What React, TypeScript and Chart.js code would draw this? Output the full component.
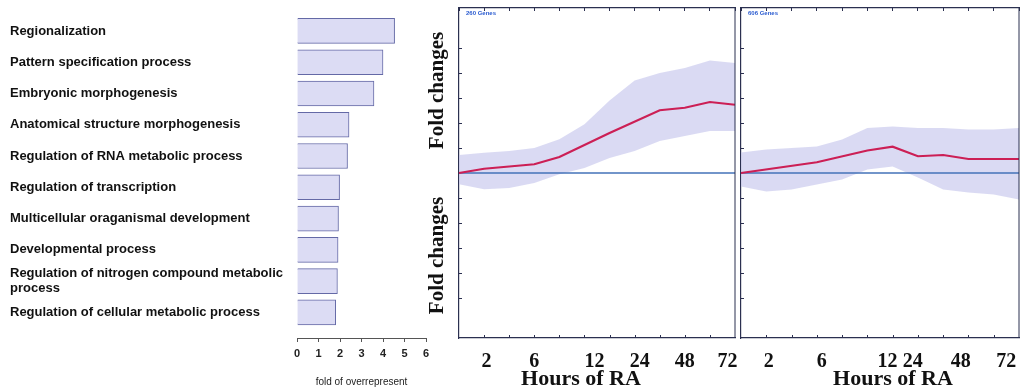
import React, { useEffect, useRef } from 'react';
import { Chart, registerables } from 'chart.js';

Chart.register(...registerables);

// ---------- Data ----------
const goTerms: (string | string[])[] = [
  'Regionalization',
  'Pattern specification process',
  'Embryonic morphogenesis',
  'Anatomical structure morphogenesis',
  'Regulation of RNA metabolic process',
  'Regulation of transcription',
  'Multicellular oraganismal development',
  'Developmental process',
  ['Regulation of nitrogen compound metabolic', 'process'],
  'Regulation of cellular metabolic process',
];
const foldOverrep = [4.54, 4.0, 3.58, 2.42, 2.35, 1.98, 1.93, 1.91, 1.88, 1.8];

const hourLabels = ['2', '6', '12', '24', '48', '72'];
const hourPos1 = [1.1, 3.0, 5.4, 7.2, 9.0, 10.7];
const hourPos2 = [1.1, 3.2, 5.8, 6.8, 8.7, 10.5];

const cloudX = [0, 1, 2, 3, 4, 5, 6, 7, 8, 9, 10, 11];
const cloud1Upper = [0.72, 0.81, 0.88, 1.0, 1.35, 1.95, 2.9, 3.7, 4.0, 4.2, 4.5, 4.4];
const cloud1Lower = [-0.45, -0.65, -0.6, -0.4, -0.05, 0.2, 0.6, 0.88, 1.28, 1.48, 1.68, 1.68];
const cloud2Upper = [0.82, 0.94, 1.0, 1.06, 1.34, 1.8, 1.86, 1.8, 1.8, 1.74, 1.74, 1.8];
const cloud2Lower = [-0.54, -0.74, -0.66, -0.46, -0.26, 0.14, 0.26, -0.18, -0.66, -0.78, -0.86, -1.06];

const mean1X = [0, 1, 3, 4, 6, 8, 9, 10, 11];
const mean1Y = [0, 0.17, 0.35, 0.64, 1.6, 2.51, 2.61, 2.84, 2.73];
const mean2X = [0, 3, 5, 6, 7, 8, 9, 11];
const mean2Y = [0, 0.43, 0.9, 1.05, 0.67, 0.72, 0.56, 0.56];

const zeroX = [0, 11];
const zeroY = [0, 0];

const geneCount1 = '260 Genes';
const geneCount2 = '606 Genes';

// ---------- Styles ----------
const FRAME = '#2b3050';
const CLOUD = 'rgba(200,200,238,0.68)';
const MEAN = '#cc1f55';
const ZERO = '#4372b8';
const SERIF = '"Liberation Serif", "Times New Roman", serif';
const SANS = '"Liberation Sans", Arial, sans-serif';

const panelFrame = {
  id: 'panelFrame',
  afterDatasetsDraw(chart: any, _args: any, opts: any) {
    const { ctx, chartArea: a } = chart;
    ctx.save();
    ctx.strokeStyle = FRAME;
    ctx.lineWidth = 1.2;
    ctx.beginPath();
    ctx.moveTo(a.right, a.top);
    ctx.lineTo(a.right, a.bottom);
    // inward tick marks on the bottom border, following the top axis ticks
    const xt = chart.scales.xTop;
    if (xt) {
      ctx.lineWidth = 1;
      xt.ticks.forEach((t: any) => {
        const px = Math.round(xt.getPixelForValue(t.value)) + 0.5;
        if (px <= a.left + 1 || px >= a.right - 1) return;
        ctx.moveTo(px, a.bottom);
        ctx.lineTo(px, a.bottom - 3);
      });
    }
    ctx.stroke();
    if (opts && opts.text) {
      ctx.fillStyle = '#2a5bd0';
      ctx.font = `bold 6px ${SANS}`;
      ctx.textBaseline = 'middle';
      ctx.fillText(opts.text, a.left + 7, a.top + 5);
    }
    ctx.restore();
  },
};

const pts = (xs: number[], ys: number[]) => xs.map((x, i) => ({ x, y: ys[i] }));

const noPad = (s: any) => {
  s.paddingLeft = 0;
  s.paddingRight = 0;
  s.paddingTop = 0;
  s.paddingBottom = 0;
};

// shift an axis title by (dx, dy) pixels
const shiftTitle = (dx: number, dy: number) => (s: any) => {
  if (s._titleShifted) return;
  s._titleShifted = true;
  const orig = s.drawTitle.bind(s);
  s.drawTitle = () => {
    s.ctx.save();
    s.ctx.translate(dx, dy);
    orig();
    s.ctx.restore();
  };
};

function panelConfig(
  upper: number[],
  lower: number[],
  mx: number[],
  my: number[],
  hourPos: number[],
  showYTitle: boolean,
  yWidth: number,
  padRight: number,
  geneText: string,
  titleDx: number
): any {
  const yCommon = (min: number, max: number) => ({
    type: 'linear',
    position: 'left',
    stack: 'fold',
    stackWeight: 1,
    min,
    max,
    afterBuildTicks: (s: any) => {
      s.ticks = s.ticks.filter((t: any) => Number.isInteger(t.value) && t.value !== 0);
    },
    ticks: { display: false, stepSize: 1 },
    grid: { drawOnChartArea: false, drawTicks: true, tickLength: -3, color: FRAME },
    border: { color: FRAME, width: 1.2 },
    title: {
      display: showYTitle,
      text: 'Fold changes',
      font: { family: SERIF, weight: 'bold', size: 21 },
      color: '#111',
      padding: { top: 5, bottom: 0 },
    },
    afterFit: (s: any) => {
      s.width = yWidth;
      noPad(s);
    },
  });
  return {
    type: 'line',
    data: {
      datasets: [
        {
          data: pts(mx, my),
          yAxisID: 'yTop',
          borderWidth: 2.2,
          pointRadius: 0,
          borderColor: MEAN,
          fill: false,
          clip: false,
        },
        {
          data: pts(zeroX, zeroY),
          yAxisID: 'yTop',
          borderWidth: 1.4,
          pointRadius: 0,
          borderColor: ZERO,
          fill: false,
          clip: false,
        },
        {
          data: pts(cloudX, upper),
          yAxisID: 'yTop',
          borderWidth: 0,
          pointRadius: 0,
          fill: false,
          backgroundColor: CLOUD,
          borderColor: 'rgba(0,0,0,0)',
          clip: false,
        },
        {
          data: pts(cloudX, lower),
          yAxisID: 'yTop',
          borderWidth: 0,
          pointRadius: 0,
          fill: '-1',
          backgroundColor: CLOUD,
          borderColor: 'rgba(0,0,0,0)',
          clip: false,
        },
      ],
    },
    options: {
      responsive: false,
      animation: false,
      layout: { autoPadding: false, padding: { left: 0, top: 5, right: padRight, bottom: 0 } },
      plugins: {
        legend: { display: false },
        tooltip: { enabled: false },
        panelFrame: { text: geneText },
      },
      scales: {
        x: {
          type: 'linear',
          position: 'bottom',
          min: 0,
          max: 11,
          afterBuildTicks: (s: any) => {
            s.ticks = hourPos.map((v) => ({ value: v }));
          },
          ticks: {
            callback: (_v: any, i: number) => hourLabels[i],
            autoSkip: false,
            maxRotation: 0,
            font: { family: SERIF, weight: 'bold', size: 20 },
            color: '#111',
            padding: 12,
          },
          grid: { display: false, drawTicks: false },
          border: { color: FRAME, width: 1.2 },
          title: {
            display: true,
            text: 'Hours of RA',
            font: { family: SERIF, weight: 'bold', size: 22 },
            color: '#111',
            padding: { top: 0, bottom: 0 },
          },
          afterFit: (s: any) => {
            s.height = 52;
            noPad(s);
          },
          afterUpdate: shiftTitle(titleDx, 3),
        },
        xTop: {
          type: 'linear',
          position: 'top',
          min: 0,
          max: 11,
          ticks: { display: false, stepSize: 1 },
          grid: { drawOnChartArea: false, drawTicks: true, tickLength: -3, color: FRAME },
          border: { color: FRAME, width: 1.2 },
          afterFit: (s: any) => {
            s.height = 3;
            noPad(s);
          },
        },
        yBot: yCommon(-6.6, 0),
        yTop: yCommon(0, 6.6),
      },
    },
    plugins: [panelFrame],
  };
}

function barConfig(): any {
  return {
    type: 'bar',
    data: {
      datasets: [
        {
          data: foldOverrep.map((v, i) => ({ x: v, y: i })),
          backgroundColor: '#dcdcf4',
          borderColor: '#6469a6',
          borderWidth: 1,
          barThickness: 25,
        },
      ],
    },
    options: {
      indexAxis: 'y',
      responsive: false,
      animation: false,
      layout: { autoPadding: false, padding: { left: 10, top: 10, right: 14, bottom: 0 } },
      plugins: { legend: { display: false }, tooltip: { enabled: false } },
      scales: {
        y: {
          type: 'linear',
          reverse: true,
          offset: false,
          min: -0.67,
          max: 9.82,
          afterBuildTicks: (s: any) => {
            s.ticks = goTerms.map((_t, i) => ({ value: i }));
          },
          ticks: {
            callback: (v: any) => goTerms[v],
            crossAlign: 'far',
            autoSkip: false,
            font: { family: SANS, weight: 'bold', size: 13 },
            color: '#111',
          },
          grid: { display: false, drawTicks: false },
          border: { display: false },
          afterFit: (s: any) => {
            s.width = 287;
            noPad(s);
          },
        },
        x: {
          type: 'linear',
          min: 0,
          max: 6,
          ticks: {
            stepSize: 1,
            font: { family: SANS, weight: 'bold', size: 11 },
            color: '#222',
            padding: 5,
          },
          grid: { drawOnChartArea: false, drawTicks: true, tickLength: 4, color: '#555' },
          border: { color: '#555', width: 1 },
          title: {
            display: true,
            text: 'fold of overrepresent',
            font: { family: SANS, size: 10 },
            color: '#222',
            padding: { top: 0, bottom: 2 },
          },
          afterFit: (s: any) => {
            s.height = 52;
            noPad(s);
          },
        },
      },
    },
  };
}

function ChartCanvas({ config, left, width }: { config: () => any; left: number; width: number }) {
  const ref = useRef<HTMLCanvasElement | null>(null);
  useEffect(() => {
    if (!ref.current) return;
    const chart = new Chart(ref.current, config());
    return () => chart.destroy();
  }, []);
  return (
    <canvas
      ref={ref}
      width={width}
      height={390}
      style={{ position: 'absolute', left, top: 0, width, height: 390 }}
    />
  );
}

export default function App() {
  return (
    <div style={{ position: 'absolute', left: 0, top: 0, width: 1026, height: 390, background: '#fff' }}>
      <ChartCanvas config={barConfig} left={0} width={440} />
      <ChartCanvas
        config={() =>
          panelConfig(cloud1Upper, cloud1Lower, mean1X, mean1Y, hourPos1, true, 39, 3, geneCount1, -16)
        }
        left={420}
        width={318}
      />
      <ChartCanvas
        config={() =>
          panelConfig(cloud2Upper, cloud2Lower, mean2X, mean2Y, hourPos2, false, 3, 7, geneCount2, 13)
        }
        left={738}
        width={288}
      />
    </div>
  );
}
